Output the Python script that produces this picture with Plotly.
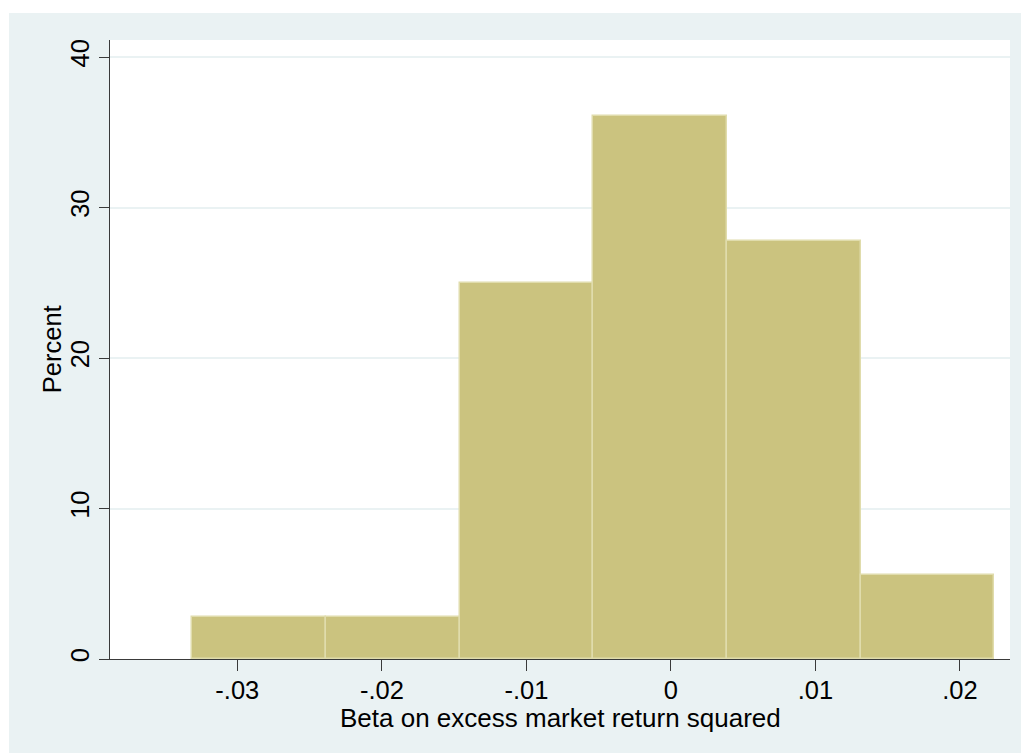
import plotly.graph_objects as go

# Histogram data (bins)
bin_starts = [-0.03312, -0.02387, -0.01462, -0.00537, 0.00388, 0.01313]
bin_width = 0.00925
percent = [2.78, 2.78, 25.0, 36.11, 27.78, 5.56]

x_ticks = [-0.03, -0.02, -0.01, 0, 0.01, 0.02]
x_tick_labels = ["-.03", "-.02", "-.01", "0", ".01", ".02"]
y_ticks = [0, 10, 20, 30, 40]
y_tick_labels = ["0", "10", "20", "30", "40"]

x_title = "Beta on excess market return squared"
y_title = "Percent"

BG = "#eaf2f3"
AX = "#3a3a3a"
FONT = "Liberation Sans, Arial, sans-serif"

centers = [s + bin_width / 2 for s in bin_starts]

fig = go.Figure()
fig.add_trace(go.Bar(
    x=centers,
    y=percent,
    width=[bin_width] * len(percent),
    marker=dict(color="rgb(203,195,127)",
                line=dict(color="rgb(224,220,172)", width=1.5)),
    hoverinfo="skip",
))

PW, PH = 900, 619
fig.update_layout(
    width=1021, height=753,
    paper_bgcolor=BG,
    plot_bgcolor="white",
    margin=dict(l=110, r=11, t=40, b=94),
    showlegend=False,
    bargap=0,
    font=dict(family=FONT, color="black", size=25.5),
    shapes=[
        # white frame strips outside the graph region (top and left)
        dict(type="rect", xref="paper", yref="paper",
             x0=-110 / PW, x1=1 + 11 / PW, y0=1 + 27 / PH, y1=1 + 40 / PH,
             fillcolor="white", line=dict(width=0), layer="above"),
        dict(type="rect", xref="paper", yref="paper",
             x0=-110 / PW, x1=-101 / PW, y0=-94 / PH, y1=1 + 40 / PH,
             fillcolor="white", line=dict(width=0), layer="above"),
    ],
    annotations=[
        dict(text=x_title, xref="paper", yref="paper",
             x=0.5, y=(659 - 718) / PH,
             xanchor="center", yanchor="middle", showarrow=False,
             font=dict(size=26, family=FONT, color="black")),
        dict(text=y_title, xref="paper", yref="paper",
             x=(51.7 - 110) / PW, y=0.5, textangle=-90,
             xanchor="center", yanchor="middle", showarrow=False,
             font=dict(size=25.5, family=FONT, color="black")),
    ],
)

fig.update_xaxes(
    range=[-0.03881, 0.02346],
    tickvals=x_ticks, ticktext=x_tick_labels,
    ticks="outside", ticklen=11, tickwidth=1, tickcolor=AX,
    ticklabelstandoff=-3,
    showline=True, linecolor=AX, linewidth=1,
    showgrid=False, zeroline=False, automargin=False,
    tickfont=dict(size=25.5, family=FONT),
)
fig.update_yaxes(
    range=[0, 41.13],
    tickvals=y_ticks, ticktext=y_tick_labels,
    tickangle=-90,
    ticks="outside", ticklen=10, tickwidth=1, tickcolor=AX,
    showline=True, linecolor=AX, linewidth=1,
    showgrid=True, gridcolor=BG, gridwidth=1.5,
    zeroline=False, automargin=False,
    tickfont=dict(size=25.5, family=FONT),
)

fig.write_html("out.html", config={"displayModeBar": False},
               post_script="document.body.style.margin='0';")
